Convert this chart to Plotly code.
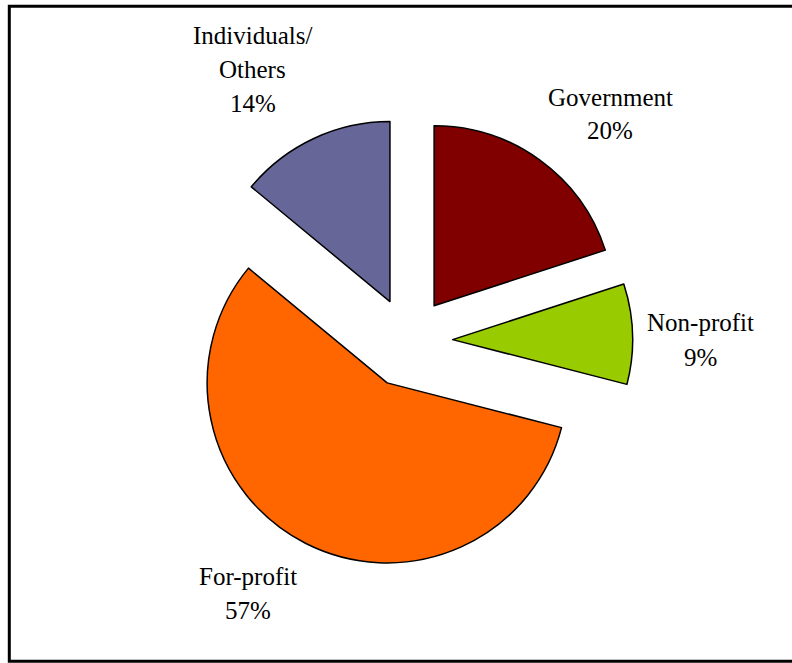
import plotly.graph_objects as go

# Data
labels = ["Government", "Non-profit", "For-profit", "Individuals/<br>Others"]
values = [20, 9, 57, 14]
colors = ["#800000", "#99CC00", "#FF6600", "#666699"]
pulls = [0.242, 0.245, 0.261, 0.242]

W, H = 792, 663

fig = go.Figure()
fig.add_trace(go.Pie(
    labels=labels,
    values=values,
    sort=False,
    direction="clockwise",
    rotation=0,
    pull=pulls,
    marker=dict(colors=colors, line=dict(color="black", width=1.5)),
    textinfo="none",
    hoverinfo="label+percent",
    showlegend=False,
    domain=dict(x=[(408.5 - 227) / W, (408.5 + 227) / W],
                y=[1 - 568 / H, 1 - 114 / H]),
))

# label placement (pixel centers of each text line)
label_pos = {
    "Government": (610, [97, 131]),
    "Non-profit": (700, [322.5, 357]),
    "For-profit": (248, [576.7, 610]),
    "Individuals/<br>Others": (253, [35.5, 70, 103.5]),
}
total = sum(values)
annotations = []
for lab, val in zip(labels, values):
    lines = lab.split("<br>") + [f"{round(100 * val / total)}%"]
    cx, ys = label_pos[lab]
    for line, yy in zip(lines, ys):
        annotations.append(dict(
            text=line, x=cx / W, y=1 - yy / H, xref="paper", yref="paper",
            xanchor="center", yanchor="middle", showarrow=False,
            font=dict(family="Liberation Serif, Times New Roman, serif", size=25, color="black"),
        ))

fig.update_layout(
    width=W, height=H,
    margin=dict(l=0, r=0, t=0, b=0),
    paper_bgcolor="white",
    plot_bgcolor="white",
    annotations=annotations,
    shapes=[dict(type="rect", xref="paper", yref="paper",
                 x0=9.3 / W, x1=1.01, y0=1 - 661.3 / H, y1=1 - 6.3 / H,
                 line=dict(color="black", width=3), fillcolor="rgba(0,0,0,0)")],
)

fig.write_html("out.html", config={"displayModeBar": False},
               post_script="document.body.style.margin='0';")
